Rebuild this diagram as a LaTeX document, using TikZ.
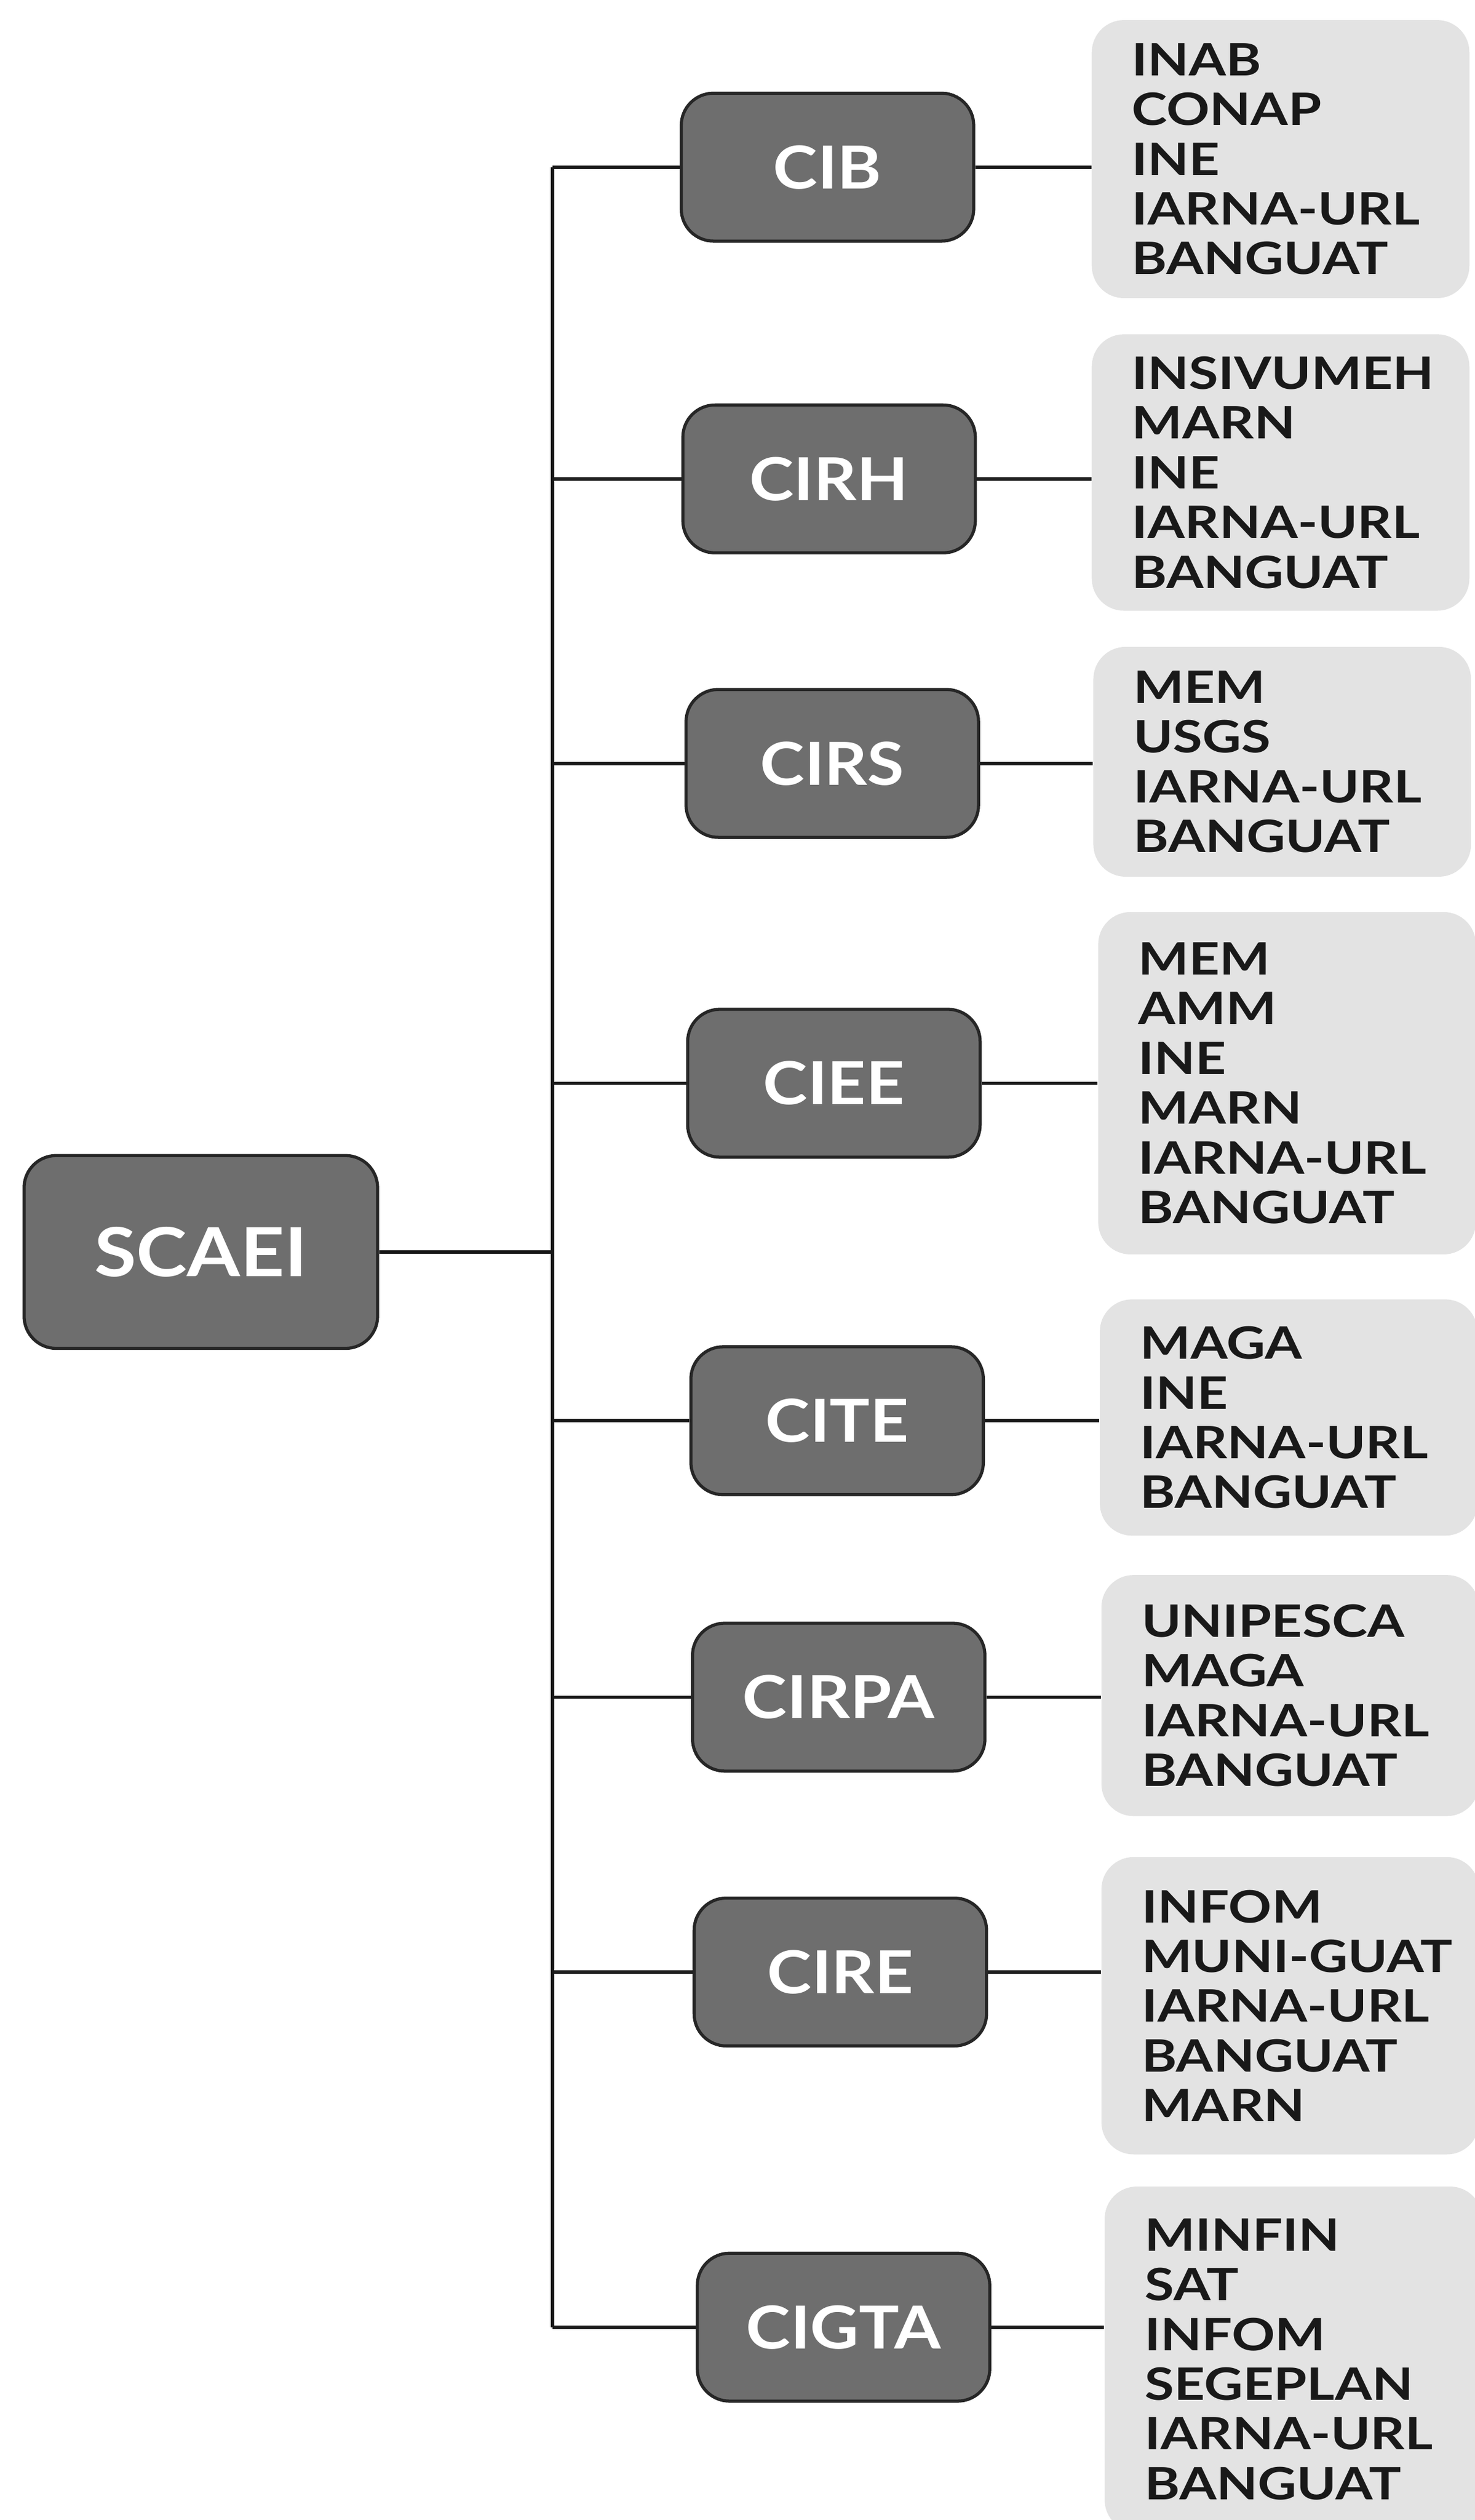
\documentclass[tikz,border=0pt]{standalone}
\usepackage{fontspec}
\setmainfont{Lato}
\newfontfamily\listfont{Lato}[FakeStretch=1.2]
\newfontfamily\unitfont{Lato}[FakeStretch=1.13]

\begin{document}
\begin{tikzpicture}[x=0.2mm,y=-0.2mm,
    unit/.style={draw=black!85, line width=1.1pt, fill=black!57, rounded corners=4mm, text=white,
      minimum width=36.4mm, minimum height=18.4mm, font=\unitfont\bfseries\fontsize{21}{21}\selectfont},
    members/.style={fill=black!11, rounded corners=4mm, text width=37mm, inner xsep=5mm,
      align=left, font=\listfont\bfseries\fontsize{15.8}{17.6}\selectfont, text=black!90},
    link/.style={line width=1.2pt, draw=black!90}]
  \useasboundingbox (0,0) rectangle (918,1568);
  \coordinate (bus) at (344,0);

  \node[unit, minimum width=44mm, minimum height=24mm, font=\unitfont\bfseries\fontsize{24}{24}\selectfont] (scaei) at (125,779) {SCAEI};

  \node[unit] (cib)   at (515,104)  {CIB};
  \node[unit] (cirh)  at (516,298)  {CIRH};
  \node[unit] (cirs)  at (518,475)  {CIRS};
  \node[unit] (ciee)  at (519,674)  {CIEE};
  \node[unit] (cite)  at (521,884)  {CITE};
  \node[unit] (cirpa) at (522,1056) {CIRPA};
  \node[unit] (cire)  at (523,1227) {CIRE};
  \node[unit] (cigta) at (525,1448) {CIGTA};

  \node[members, minimum height=34.6mm] (cibm)   at (797,99)   {INAB\\CONAP\\INE\\IARNA-URL\\BANGUAT};
  \node[members, minimum height=34.4mm] (cirhm)  at (797,294)  {INSIVUMEH\\MARN\\INE\\IARNA-URL\\BANGUAT};
  \node[members, minimum height=28.6mm] (cirsm)  at (798,474)  {MEM\\USGS\\IARNA-URL\\BANGUAT};
  \node[members, minimum height=42.6mm] (cieem)  at (801,674)  {MEM\\AMM\\INE\\MARN\\IARNA-URL\\BANGUAT};
  \node[members, minimum height=29.4mm] (citem)  at (802,882)  {MAGA\\INE\\IARNA-URL\\BANGUAT};
  \node[members, minimum height=30mm]   (cirpam) at (803,1055) {UNIPESCA\\MAGA\\IARNA-URL\\BANGUAT};
  \node[members, minimum height=37mm]   (cirem)  at (803,1248) {INFOM\\\mbox{MUNI-GUAT}\\IARNA-URL\\BANGUAT\\MARN};
  \node[members, minimum height=43mm]   (cigtam) at (805,1468) {MINFIN\\SAT\\INFOM\\SEGEPLAN\\IARNA-URL\\BANGUAT};

  % tree
  \draw[link] (scaei.east) -- (scaei.east -| bus);
  \draw[link] (bus |- cib) -- (bus |- cigta);
  \draw[link] (bus |- cib)   -- (cib.west);
  \draw[link] (bus |- cirh)  -- (cirh.west);
  \draw[link] (bus |- cirs)  -- (cirs.west);
  \draw[link] (bus |- ciee)  -- (ciee.west);
  \draw[link] (bus |- cite)  -- (cite.west);
  \draw[link] (bus |- cirpa) -- (cirpa.west);
  \draw[link] (bus |- cire)  -- (cire.west);
  \draw[link] (bus |- cigta) -- (cigta.west);

  % members
  \draw[link] (cib.east)   -- (cib.east -| cibm.west);
  \draw[link] (cirh.east)  -- (cirh.east -| cirhm.west);
  \draw[link] (cirs.east)  -- (cirs.east -| cirsm.west);
  \draw[link] (ciee.east)  -- (ciee.east -| cieem.west);
  \draw[link] (cite.east)  -- (cite.east -| citem.west);
  \draw[link] (cirpa.east) -- (cirpa.east -| cirpam.west);
  \draw[link] (cire.east)  -- (cire.east -| cirem.west);
  \draw[link] (cigta.east) -- (cigta.east -| cigtam.west);
\end{tikzpicture}
\end{document}
